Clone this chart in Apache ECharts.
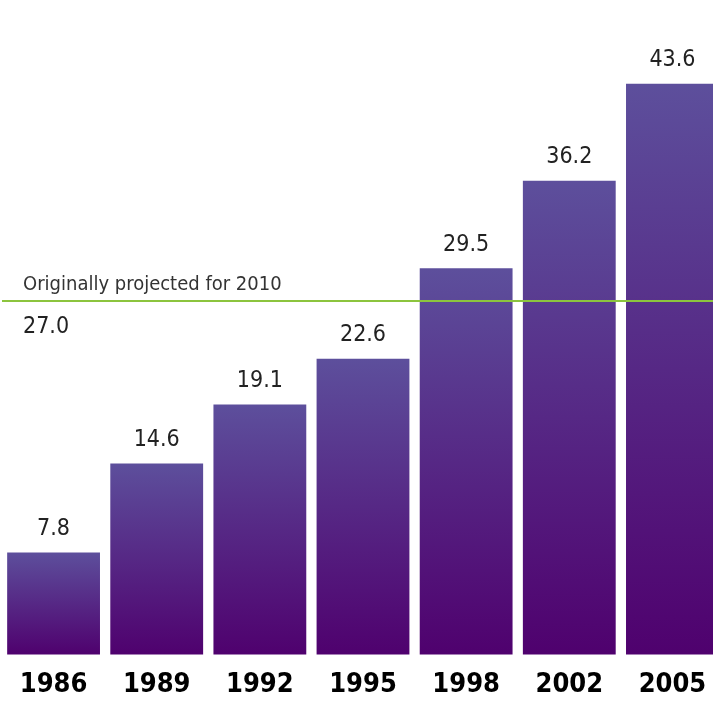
<!DOCTYPE html>
<html>
<head>
<meta charset="utf-8">
<script src="https://cdn.jsdelivr.net/npm/echarts@6/dist/echarts.min.js"></script>
<style>
  html, body { margin: 0; padding: 0; background: #ffffff; overflow: hidden; }
  /* the plot runs slightly past the right edge, so the last bar is cut off */
  #chart { width: 724px; height: 701px; }
</style>
</head>
<body>
<div id="chart"></div>
<script>
// Survey years and measured values
const years = ['1986', '1989', '1992', '1995', '1998', '2002', '2005'];
const values = [7.8, 14.6, 19.1, 22.6, 29.5, 36.2, 43.6];

// Target that had originally been projected
const projectedValue = 27.0;
const projectedLabel = 'Originally projected for 2010';

const FONT = '"DejaVu Sans Condensed", "Liberation Sans Narrow", "Roboto", sans-serif';

const chart = echarts.init(document.getElementById('chart'));

const barGradient = new echarts.graphic.LinearGradient(0, 0, 0, 1, [
  { offset: 0, color: '#5d4f9c' },
  { offset: 1, color: '#4f016e' }
]);

chart.setOption({
  backgroundColor: '#ffffff',
  animation: false,
  grid: { left: 2, right: 0, top: 0, bottom: 46.5 },
  xAxis: {
    type: 'category',
    data: years,
    axisLine: { show: false },
    axisTick: { show: false },
    axisLabel: {
      margin: 17,
      color: '#000000',
      fontFamily: FONT,
      fontWeight: 'bold',
      fontSize: 27
    }
  },
  yAxis: {
    type: 'value',
    min: 0,
    max: 50,
    show: false,
    splitLine: { show: false }
  },
  series: [{
    type: 'bar',
    data: values,
    barCategoryGap: '10%',
    itemStyle: { color: barGradient },
    label: {
      show: true,
      position: 'top',
      distance: 12,
      color: '#222222',
      fontFamily: FONT,
      fontSize: 23,
      formatter: p => p.value.toFixed(1)
    },
    markLine: {
      silent: true,
      symbol: 'none',
      lineStyle: { color: '#8cc43e', width: 2, type: 'solid' },
      data: [
        {
          yAxis: projectedValue,
          label: {
            position: 'insideStartTop',
            distance: [21, 6],
            formatter: projectedLabel,
            color: '#333333',
            fontFamily: FONT,
            fontSize: 20
          }
        },
        {
          yAxis: projectedValue,
          label: {
            position: 'insideStartBottom',
            distance: [21, 14],
            formatter: projectedValue.toFixed(1),
            color: '#222222',
            fontFamily: FONT,
            fontSize: 23
          }
        }
      ]
    }
  }]
});
</script>
</body>
</html>
